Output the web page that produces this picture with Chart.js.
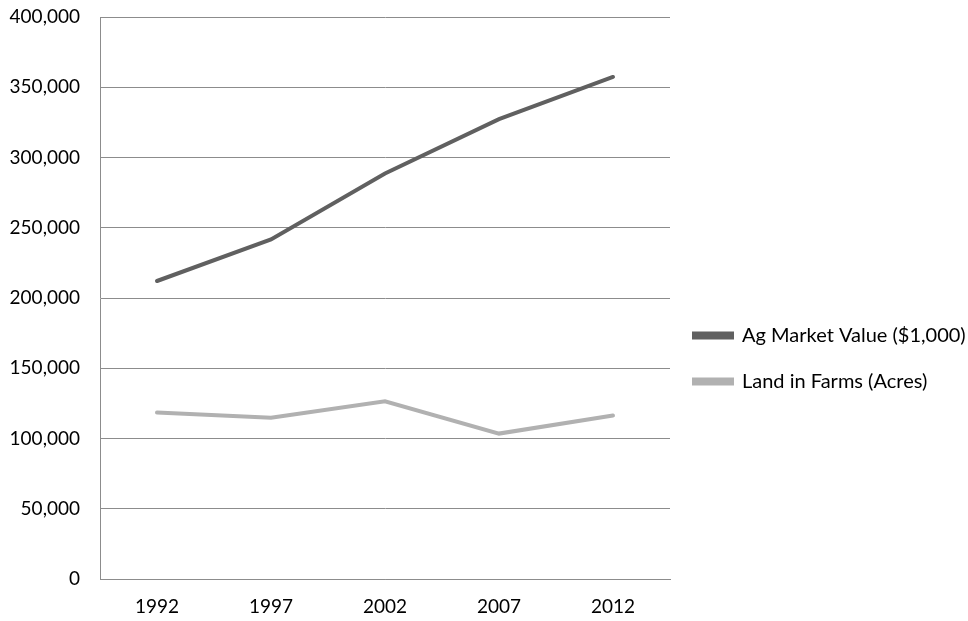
<!DOCTYPE html>
<html>
<head>
<meta charset="utf-8">
<script src="https://cdn.jsdelivr.net/npm/chart.js@4.4.1/dist/chart.umd.min.js"></script>
<style>
  html, body { margin: 0; padding: 0; background: #fff; }
  #chart { display: block; }
</style>
</head>
<body>
<canvas id="chart" width="968" height="621"></canvas>
<script>
var years = ["1992", "1997", "2002", "2007", "2012"];
var agMarketValue = [212100, 241700, 288600, 327300, 357300];
var landInFarms = [118500, 114700, 126500, 103500, 116400];
var seriesNames = ["Ag Market Value ($1,000)", "Land in Farms (Acres)"];

Chart.defaults.font.family = "Lato, 'Open Sans', sans-serif";
Chart.defaults.font.size = 19;
Chart.defaults.color = "#000";

// legend sits in a fixed-width column right of the plot, a bit below centre
var legendPlace = {
  id: 'legendPlace',
  beforeLayout: function(chart) {
    var lg = chart.legend;
    if (lg && !lg._fixed) {
      var fit = lg.fit;
      lg.fit = function() { fit.call(this); this.width = 298; };
      lg._fixed = true;
    }
  },
  afterLayout: function(chart) {
    var lg = chart.legend;
    lg.left -= 2; lg.right -= 2;
    lg.top += 48; lg.bottom += 48;
  }
};

var ctx = document.getElementById("chart");
new Chart(ctx, {
  type: 'line',
  data: {
    labels: years,
    datasets: [{
      label: seriesNames[0],
      data: agMarketValue,
      borderColor: "#606060",
      backgroundColor: "#606060",
      borderWidth: 4,
      pointRadius: 0,
      borderCapStyle: 'round',
      tension: 0
    }, {
      label: seriesNames[1],
      data: landInFarms,
      borderColor: "#b1b1b1",
      backgroundColor: "#b1b1b1",
      borderWidth: 4,
      pointRadius: 0,
      borderCapStyle: 'round',
      tension: 0
    }]
  },
  options: {
    responsive: false,
    animation: false,
    layout: { padding: 0 },
    plugins: {
      legend: {
        position: 'right',
        labels: {
          boxWidth: 38,
          boxHeight: 4,
          padding: 26,
          font: { size: 20 }
        }
      },
      tooltip: { enabled: false }
    },
    scales: {
      x: {
        offset: true,
        grid: { display: false, drawTicks: false },
        border: { color: "#8c8c8c", width: 1 },
        ticks: { padding: 16 },
        afterFit: function(scale) { scale.height = 42; }
      },
      y: {
        min: 0,
        max: 400000,
        grid: { color: "#8c8c8c", drawTicks: false },
        border: { color: "#8c8c8c", width: 1 },
        ticks: {
          stepSize: 50000,
          padding: 20,
          callback: function(v) { return v.toLocaleString('en-US'); }
        },
        afterFit: function(scale) {
          scale.width = 100;
          scale.paddingTop = 17;
          scale.paddingBottom = 0;
        }
      }
    }
  },
  plugins: [legendPlace]
});
</script>
</body>
</html>
